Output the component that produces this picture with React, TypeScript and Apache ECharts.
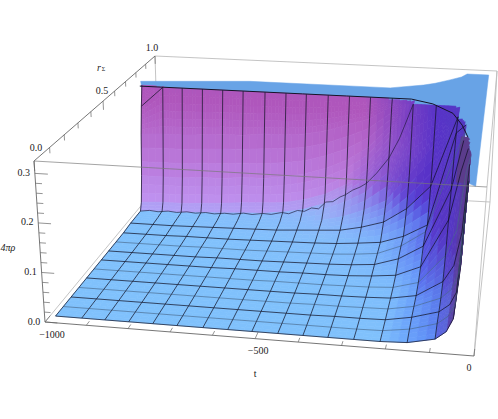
import React, { useEffect, useRef } from "react";
import * as echarts from "echarts";

// axis tick labels
const tTicks = [-1000, -500, 0];
const rTicks = [0, 0.5, 1];
const rhoTicks = [0, 0.1, 0.2, 0.3];

// mesh coordinates
const tValues = [-987, -923, -867, -809, -751, -693, -631, -572, -515, -454, -395, -337, -277, -216, -154, -91, -67, -53, -45, -42];
const rValues = [0.035, 0.089, 0.145, 0.203, 0.263, 0.322, 0.383, 0.446, 0.512, 0.581, 0.651, 0.704, 0.75, 0.762, 0.774, 0.786, 0.798, 0.81];
const hiddenRows = [11, 12, 13, 14, 15, 17];
const grayRows = [1, 3, 5, 8];
const hiddenCols = [16, 17, 18];

// surface height rho(t, r), one array per r
const rho0 = [0, 0, 0, 0, 0, 0, 0, 0, 0, 0, 0, 0, 0, 0, 0.002, 0.013, 0.029, 0.055, 0.153, 0.2925];
const rho1 = [0, 0, 0, 0, 0, 0, 0, 0, 0, 0, 0, 0, 0, 0.001, 0.008, 0.023, 0.039, 0.062, 0.18, 0.2925];
const rho2 = [0, 0, 0, 0, 0, 0, 0, 0, 0, 0, 0, 0.001, 0.001, 0.002, 0.011, 0.026, 0.042, 0.068, 0.23, 0.2925];
const rho3 = [0, 0, 0, 0, 0, 0, 0, 0, 0, 0, 0.001, 0.001, 0.002, 0.003, 0.012, 0.033, 0.052, 0.085, 0.2925, 0.2925];
const rho4 = [0, 0, 0, 0, 0, 0, 0, 0, 0, 0, 0.001, 0.001, 0.002, 0.004, 0.013, 0.046, 0.081, 0.15, 0.2925, 0.2925];
const rho5 = [0, 0, 0, 0, 0, 0, 0, 0, 0.001, 0.001, 0.001, 0.002, 0.003, 0.006, 0.02, 0.081, 0.137, 0.26, 0.2925, 0.2925];
const rho6 = [0, 0, 0, 0, 0, 0, 0.001, 0.001, 0.001, 0.002, 0.002, 0.003, 0.006, 0.011, 0.033, 0.137, 0.244, 0.2925, 0.2925, 0.2925];
const rho7 = [0, 0, 0, 0, 0, 0.001, 0.001, 0.001, 0.002, 0.003, 0.004, 0.006, 0.01, 0.026, 0.057, 0.185, 0.2925, 0.2925, 0.2925, 0.2925];
const rho8 = [0, 0, 0, 0, 0.001, 0.001, 0.001, 0.002, 0.003, 0.004, 0.005, 0.008, 0.013, 0.033, 0.068, 0.234, 0.2925, 0.2925, 0.2925, 0.2925];
const rho9 = [0, 0, 0, 0.001, 0.001, 0.001, 0.002, 0.003, 0.004, 0.005, 0.007, 0.011, 0.016, 0.033, 0.062, 0.273, 0.2925, 0.2925, 0.2925, 0.2925];
const rho10 = [0.002, 0.002, 0.002, 0.003, 0.004, 0.005, 0.006, 0.007, 0.01, 0.013, 0.016, 0.026, 0.041, 0.075, 0.13, 0.2925, 0.2925, 0.2925, 0.2925, 0.2925];
const rho11 = [0.002, 0.003, 0.003, 0.004, 0.005, 0.007, 0.008, 0.01, 0.015, 0.02, 0.032, 0.05, 0.075, 0.14, 0.21, 0.2925, 0.2925, 0.2925, 0.2925, 0.2925];
const rho12 = [0.002, 0.005, 0.004, 0.007, 0.009, 0.012, 0.014, 0.02, 0.029, 0.046, 0.07, 0.1, 0.1625, 0.2925, 0.2925, 0.2925, 0.2925, 0.2925, 0.2925, 0.2925];
const rho13 = [0.02, 0.023, 0.023, 0.026, 0.029, 0.033, 0.036, 0.039, 0.049, 0.065, 0.091, 0.13, 0.195, 0.2925, 0.2925, 0.2925, 0.2925, 0.2925, 0.2925, 0.2925];
const rho14 = [0.081, 0.081, 0.081, 0.085, 0.085, 0.091, 0.091, 0.098, 0.107, 0.124, 0.146, 0.179, 0.234, 0.2925, 0.2925, 0.2925, 0.2925, 0.2925, 0.2925, 0.2925];
const rho15 = [0.179, 0.182, 0.182, 0.185, 0.189, 0.189, 0.195, 0.195, 0.2, 0.211, 0.228, 0.244, 0.276, 0.2925, 0.2925, 0.2925, 0.2925, 0.2925, 0.2925, 0.2925];
const rho16 = [0.244, 0.2925, 0.2925, 0.2925, 0.2925, 0.2925, 0.2925, 0.2925, 0.2925, 0.2925, 0.2925, 0.2925, 0.2925, 0.2925, 0.2925, 0.2925, 0.2925, 0.2925, 0.2925, 0.2925];
const rho17 = [0.2925, 0.2925, 0.2925, 0.2925, 0.2925, 0.2925, 0.2925, 0.2925, 0.2925, 0.2925, 0.2925, 0.2925, 0.2925, 0.2925, 0.2925, 0.2925, 0.2925, 0.2925, 0.2925, 0.2925];
const rhoRows = [rho0, rho1, rho2, rho3, rho4, rho5, rho6, rho7, rho8, rho9, rho10, rho11, rho12, rho13, rho14, rho15, rho16, rho17];

// the jagged contour where the surface meets the wall, at r = 0.75
const wiggleT = [-987, -960, -935, -905, -880, -850, -825, -795, -770, -740, -715, -685, -660, -630, -605, -575, -555, -530, -510, -490, -470, -450, -430, -410, -395, -375, -355, -337, -310, -277, -250, -216];
const wiggleRho = [0.002, 0.005, 0.003, 0.006, 0.004, 0.007, 0.005, 0.008, 0.006, 0.009, 0.008, 0.012, 0.01, 0.014, 0.013, 0.019, 0.017, 0.026, 0.025, 0.034, 0.033, 0.05, 0.052, 0.064, 0.07, 0.082, 0.09, 0.1, 0.125, 0.1625, 0.21, 0.2925];

// clipped top of the surface
const plateauT = [-990, -681, -287, -194, -164, -126, -96, -82, -22, -24, -43, -58, -70, -100, -164, -225, -900, -985];
const plateauR = [0.81, 0.834, 0.834, 0.81, 0.834, 0.878, 0.915, 0.951, 0.951, 0, 0.129, 0.476, 0.5, 0.55, 0.65, 0.75, 0.75, 0.8];
const plateauRho = [0.302, 0.309, 0.309, 0.325, 0.325, 0.325, 0.325, 0.325, 0.325, 0.325, 0.2925, 0.2925, 0.2925, 0.2925, 0.2925, 0.2925, 0.2925, 0.2925];
const crestT = [-990, -674, -526, -404, -225, -164, -106, -77, -58];
const crestR = [0.8, 0.8, 0.8, 0.8, 0.8, 0.762, 0.681, 0.577, 0.476];
const toothT = [-58, -53, -56, -51, -55, -50, -54, -49, -53, -48, -52, -47, -50, -46, -49, -45, -48, -44, -47, -43, -46, -42];
const toothR = [0.476, 0.46, 0.445, 0.43, 0.41, 0.395, 0.38, 0.36, 0.345, 0.33, 0.31, 0.295, 0.28, 0.26, 0.245, 0.23, 0.21, 0.195, 0.18, 0.16, 0.145, 0.13];

const CLIP = 0.2925;
const TOP = 0.325;
const HT = 0.96;
const HR = 1.33;
// box corners on the page: [t index, r index, z index]
const corners: Record<string, number[]> = {
  "000": [45, 322], "100": [474, 356], "110": [490, 202], "010": [159, 184],
  "001": [34, 161], "101": [487, 187], "111": [497, 71], "011": [155, 56],
};
function project(t: number, r: number, rho: number) {
  const u = (t + 1000) / 1000;
  const w = rho / TOP;
  let sx = 0, sy = 0, sw = 0;
  for (const a of [0, 1]) for (const b of [0, 1]) for (const c of [0, 1]) {
    const k = (a ? u * HT : 1 - u) * (b ? r * HR : 1 - r) * (c ? w : 1 - w);
    const p = corners[`${a}${b}${c}`];
    sx += k * p[0]; sy += k * p[1]; sw += k;
  }
  return [sx / sw, sy / sw];
}
const lerp = (a: number[], b: number[], k: number) => a.map((v, i) => v + (b[i] - v) * Math.max(0, Math.min(1, k)));
const rgb = (c: number[]) => `rgb(${Math.round(c[0])},${Math.round(c[1])},${Math.round(c[2])})`;

function shade(t: number, w: number, nu: number, nf: number) {
  const u = (t + 1000) / 1000;
  const slope = 1 - 1 / (1 + nu * nu + nf * nf);
  const amt = Math.max(slope, Math.min(1, w / 0.3));
  let front = lerp([195, 150, 245], [175, 86, 188], w / 0.8);
  const violet = lerp([80, 105, 250], [88, 50, 200], w / 0.4);
  front = lerp(front, violet, (u - (0.55 + 0.1 * Math.min(1, w / 0.6))) / 0.2);
  const side = lerp([85, 55, 195], [90, 60, 140], (u - 0.925) / 0.025);
  const wall = lerp(front, side, (u - 0.84) / 0.08);
  const floor = lerp([128, 193, 252], [95, 150, 250], (u - 0.78) / 0.12);
  return rgb(lerp(floor, wall, amt));
}

type Cell = { i: number; j: number };
const cellList: Cell[] = [];
for (let j = rValues.length - 2; j >= 0; j--) {
  const order = tValues.slice(0, -1).map((_, i) => i).sort((a, b) => Math.abs(b - 8) - Math.abs(a - 8));
  for (const i of order) {
    const q = [rhoRows[j][i], rhoRows[j][i + 1], rhoRows[j + 1][i], rhoRows[j + 1][i + 1]];
    if (Math.min(...q) >= CLIP) continue;
    cellList.push({ i, j });
  }
}
function cellChildren(c: Cell, api: any) {
  const { i, j } = c;
  const t0 = tValues[i], t1 = tValues[i + 1], r0 = rValues[j], r1 = rValues[j + 1];
  const z00 = rhoRows[j][i], z10 = rhoRows[j][i + 1], z01 = rhoRows[j + 1][i], z11 = rhoRows[j + 1][i + 1];
  const z = (a: number, b: number) => z00 * (1 - a) * (1 - b) + z10 * a * (1 - b) + z01 * (1 - a) * b + z11 * a * b;
  const pt = (a: number, b: number) => api.coord(project(t0 + (t1 - t0) * a, r0 + (r1 - r0) * b, z(a, b)));
  const n = Math.max(z00, z10, z01, z11) >= CLIP ? 6 : 3;
  const out: any[] = [];
  for (let b = n - 1; b >= 0; b--) for (let a = 0; a < n; a++) {
    const a0 = a / n, a1 = (a + 1) / n, b0 = b / n, b1 = (b + 1) / n;
    if (Math.min(z(a0, b0), z(a1, b0), z(a0, b1), z(a1, b1)) >= CLIP - 0.004) continue;
    const am = (a0 + a1) / 2, bm = (b0 + b1) / 2;
    const dzdt = ((z10 - z00) * (1 - bm) + (z11 - z01) * bm) / TOP / ((t1 - t0) / 1000);
    const dzdr = ((z01 - z00) * (1 - am) + (z11 - z10) * am) / TOP / (r1 - r0);
    const fill = shade(t0 + (t1 - t0) * am, z(am, bm) / TOP, dzdt * 0.5, dzdr * 0.35);
    out.push({
      type: "polygon",
      shape: { points: [pt(a0, b0), pt(a1, b0), pt(a1, b1), pt(a0, b1)] },
      style: { fill, stroke: fill, lineWidth: 0.7 },
    });
  }
  return out;
}

type Seg = { pts: number[][]; color: string; width: number };
const backEdges: Seg[] = [];
const frontEdges: Seg[] = [];
const light = "#bdbdbd", dark = "#666";
const edge = (list: Seg[], a: number[], b: number[], color: string, width = 0.9) =>
  list.push({ pts: [project(a[0], a[1], a[2]), project(b[0], b[1], b[2])], color, width });
edge(backEdges, [-1000, 1, TOP], [0, 1, TOP], light);
edge(backEdges, [-1000, 1, TOP], [-1000, 1, 0], light);
edge(backEdges, [0, 1, TOP], [0, 1, 0], light);
edge(backEdges, [-1000, 1, 0], [0, 1, 0], light);
edge(backEdges, [-1000, 0, 0], [-1000, 1, 0], light);
edge(backEdges, [0, 0, 0], [0, 1, 0], light);
edge(backEdges, [0, 0, TOP], [0, 1, TOP], light);
edge(frontEdges, [-1000, 0, TOP], [0, 0, TOP], "rgba(120,120,120,0.75)");
edge(frontEdges, [0, 0, 0], [0, 0, TOP], light);
edge(frontEdges, [-1000, 0, 0], [0, 0, 0], dark);
edge(frontEdges, [-1000, 0, 0], [-1000, 0, TOP], dark);
edge(frontEdges, [-1000, 0, TOP], [-1000, 1, TOP], dark);
for (let k = 0; k <= 10; k++) {
  const t = -1000 + k * 100;
  edge(frontEdges, [t, 0, 0], [t, k % 5 ? 0.022 : 0.035, 0], dark, 0.7);
  const r = k / 10;
  edge(frontEdges, [-1000, r, TOP], [-1000, r, TOP - (k % 5 ? 0.012 : 0.02)], dark, 0.7);
}
for (let k = 0; k <= 15; k++) {
  const z = k * 0.02;
  edge(frontEdges, [-1000, 0, z], [k % 5 ? -985 : -970, 0, z], dark, 0.7);
}

const meshLines: Seg[] = [];
rValues.forEach((r, j) => {
  if (hiddenRows.includes(j)) return;
  const pts: number[][] = [];
  for (let i = 0; i < tValues.length; i++) {
    pts.push(project(tValues[i], r, rhoRows[j][i]));
    if (rhoRows[j][i] >= CLIP) break;
  }
  if (pts.length > 1) meshLines.push({ pts, color: grayRows.includes(j) ? "rgba(70,100,135,0.8)" : "rgba(15,15,35,0.9)", width: 0.8 });
});
tValues.forEach((t, i) => {
  if (hiddenCols.includes(i)) return;
  const pts: number[][] = [];
  for (let j = 0; j < rValues.length; j++) {
    pts.push(project(t, rValues[j], rhoRows[j][i]));
    if (rhoRows[j][i] >= CLIP) break;
  }
  if (pts.length > 1) meshLines.push({ pts, color: "rgba(15,15,35,0.9)", width: 0.8 });
});
meshLines.push({ pts: wiggleT.map((t, i) => project(t, rValues[12], wiggleRho[i])), color: "rgba(25,20,50,0.9)", width: 0.7 });
meshLines.push({ pts: crestT.map((t, i) => project(t, crestR[i], CLIP)), color: "#141428", width: 1 });

type Label = { text: string; t: number; r: number; z: number; dx: number; dy: number; italic?: boolean };
const fmt = (v: number) => (v < 0 ? "\u2212" + Math.abs(v) : String(v));
const labels: Label[] = [
  ...tTicks.map((t, i) => ({ text: fmt(t), t, r: 0, z: 0, dx: [7, 3, -5][i], dy: [12, 12, 11][i] })),
  ...rTicks.map((r, i) => ({ text: r.toFixed(1), t: -1000, r, z: TOP, dx: [2, -1, -3][i], dy: [-14, -11, -9][i] })),
  ...rhoTicks.map((z) => ({ text: z.toFixed(1), t: -1000, r: 0, z, dx: -11, dy: -1 })),
];
const titles = [
  { text: "t", t: -500, r: 0, z: 0, dx: 0, dy: 35 },
  { text: "4\u03C0\u03C1", t: -1000, r: 0, z: 0.15, dx: -32, dy: 0, italic: true },
];

export default function App() {
  const ref = useRef<HTMLDivElement>(null);
  useEffect(() => {
    document.body.style.margin = "0";
    const chart = echarts.init(ref.current!, undefined, { renderer: "svg" });
    const lineSeries = (segs: Seg[], z: number) => ({
      type: "custom", coordinateSystem: "cartesian2d", z, silent: true, clip: false, progressive: 0,
      data: segs.map((_, i) => [i]),
      renderItem: (p: any, api: any) => {
        const s = segs[p.dataIndex];
        return { type: "polyline", shape: { points: s.pts.map((q) => api.coord(q)) }, style: { fill: "none", stroke: s.color, lineWidth: s.width } };
      },
    });
    const polySeries = (pts: number[][], fill: string, z: number) => ({
      type: "custom", coordinateSystem: "cartesian2d", z, silent: true, clip: false, progressive: 0,
      data: [[0]],
      renderItem: (_: any, api: any) => ({ type: "polygon", shape: { points: pts.map((q) => api.coord(q)) }, style: { fill, stroke: fill, lineWidth: 0.5 } }),
    });
    const textSeries = (items: any[], z: number) => ({
      type: "custom", coordinateSystem: "cartesian2d", z, silent: true, clip: false, progressive: 0,
      data: items.map((_, i) => [i]),
      renderItem: (p: any, api: any) => {
        const l = items[p.dataIndex];
        const c = api.coord(project(l.t, l.r, l.z));
        return {
          type: "text",
          style: {
            text: l.text, x: c[0] + l.dx, y: c[1] + l.dy, fill: "#222", align: "center", verticalAlign: "middle",
            font: `${l.italic ? "italic " : ""}10px "Liberation Serif"`,
          },
        };
      },
    });
    const plateau = plateauT.map((t, i) => project(t, plateauR[i], plateauRho[i]));
    const teeth = [
      project(-75, 0.476, CLIP),
      ...toothT.map((t, i) => project(t, toothR[i], CLIP)),
      project(-70, 0.13, CLIP),
    ];
    chart.setOption({
      animation: false,
      backgroundColor: "#fff",
      grid: { left: 0, right: 0, top: 0, bottom: 0 },
      xAxis: { type: "value", min: 0, max: 498, show: false },
      yAxis: { type: "value", min: 0, max: 419, inverse: true, show: false },
      series: [
        lineSeries(backEdges, 1),
        polySeries(plateau, "#68a3e6", 2),
        {
          type: "custom", coordinateSystem: "cartesian2d", z: 3, silent: true, clip: false, progressive: 0,
          data: cellList.map((_, i) => [i]),
          renderItem: (p: any, api: any) => ({ type: "group", children: cellChildren(cellList[p.dataIndex], api) }),
        },
        polySeries(teeth, "#5b3c8c", 4),
        lineSeries(meshLines, 5),
        lineSeries(frontEdges, 6),
        textSeries(labels, 7),
        textSeries(titles, 7),
        {
          type: "custom", coordinateSystem: "cartesian2d", z: 7, silent: true, clip: false, progressive: 0,
          data: [[0]],
          renderItem: (_: any, api: any) => {
            const c = api.coord(project(-1000, 0.5, TOP));
            return {
              type: "group",
              children: [
                { type: "text", style: { text: "r", x: c[0] - 4, y: c[1] - 34, fill: "#222", font: 'italic 10px "Liberation Serif"', align: "center", verticalAlign: "middle" } },
                { type: "text", style: { text: "\u03A3", x: c[0] + 0.5, y: c[1] - 32, fill: "#222", font: '6px "Liberation Serif"', align: "center", verticalAlign: "middle" } },
              ],
            };
          },
        },
      ],
    });
    return () => chart.dispose();
  }, []);
  return <div ref={ref} style={{ width: 498, height: 419 }} />;
}
